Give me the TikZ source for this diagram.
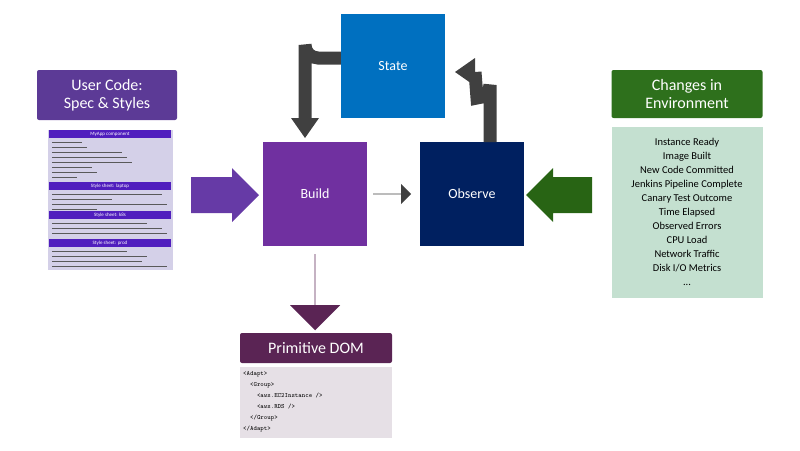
\documentclass[tikz,border=0pt]{standalone}
\usepackage{fontspec}
\setmainfont{Carlito}
\usetikzlibrary{shapes.arrows}
\definecolor{stateblue}{RGB}{0,112,192}
\definecolor{buildpur}{RGB}{112,48,160}
\definecolor{navy}{RGB}{0,32,96}
\definecolor{agray}{RGB}{64,64,64}
\definecolor{lpur}{RGB}{102,58,166}
\definecolor{titlepur}{RGB}{92,58,150}
\definecolor{dgreen}{RGB}{40,100,20}
\definecolor{tgreen}{RGB}{46,112,28}
\definecolor{lgreen}{RGB}{196,224,208}
\definecolor{maroon}{RGB}{90,36,84}
\definecolor{lgray}{RGB}{230,224,230}
\definecolor{lav}{RGB}{212,208,232}
\definecolor{hdr}{RGB}{80,30,190}
\begin{document}
\begin{tikzpicture}[x=1pt,y=-1pt,
  box/.style={minimum width=104,minimum height=104,inner sep=0,text=white,font=\fontsize{14}{16}\selectfont},
  title/.style={rounded corners=2,inner sep=0,text=white,font=\fontsize{16}{18}\selectfont,align=center,drop shadow/.try},
  big/.style={single arrow,draw=none,inner sep=0,single arrow head extend=0},
  hdr/.style={fill=hdr,minimum width=122,minimum height=8,inner sep=0,text=white,font=\fontsize{5}{5}\selectfont}]
\useasboundingbox (0,0) rectangle (800,450);
\node[box,fill=stateblue] (state) at (393,66) {State};
\node[box,fill=buildpur] (build) at (315,194) {Build};
\node[box,fill=navy] (obs) at (472,194) {Observe};
% curved arrows
\draw[agray,line width=13] (state.west|-0,58) -- (318,58) arc[start angle=90,end angle=180,radius=13] -- (305,118);
\fill[agray] (291,118) -- (319,118) -- (305,138) -- cycle;
\draw[agray,line width=13] (490,142) -- (490,85) arc[start angle=0,end angle=90,radius=13] -- (475,72);
\fill[agray] (475,58) -- (475,86) -- (455,72) -- cycle;
\node[big,fill=agray,minimum width=20,minimum height=38,single arrow head extend=5,single arrow tip angle=90] (a1) at (392,194) {};
\draw[draw=none] (build) -- (obs);
\node[big,fill=lpur,minimum width=54,minimum height=68,single arrow head extend=0.1,single arrow tip angle=90] (a2) at (216,195) {};
\node[big,fill=dgreen,minimum width=54,minimum height=66,single arrow head extend=0.1,single arrow tip angle=90,shape border rotate=180] (a3) at (568,195) {};
\node[big,fill=maroon,minimum width=50,minimum height=76,single arrow head extend=10,single arrow tip angle=90,shape border rotate=270] (a4) at (315,292) {};
% titles
\node[title,fill=titlepur,minimum width=140,minimum height=50] (uc) at (107,95) {User Code:\\Spec \& Styles};
\node[title,fill=tgreen,minimum width=151,minimum height=48] (ch) at (687,94) {Changes in\\Environment};
\node[title,fill=maroon,minimum width=152,minimum height=30] (pd) at (316,348) {Primitive DOM};
% left panel
\node[fill=lav,minimum width=125,minimum height=140,inner sep=0] (lp) at (110,200) {};
\node[hdr] (h1) at (110,134) {MyApp component};
\node[hdr] (h2) at (110,186) {Style sheet: laptop};
\node[hdr] (h3) at (110,215) {Style sheet: k8s};
\node[hdr] (h4) at (110,243) {Style sheet: prod};
\begin{scope}[gray!70!black,line width=0.6]
\foreach \y/\l in {142/30,147/35,152/70,157/75,162/80,167/40,172/45,177/25}{\draw (52,\y) -- ++(\l,0);}
\foreach \y/\l in {194/110,199/60,204/115,209/45}{\draw (52,\y) -- ++(\l,0);}
\foreach \y/\l in {223/95,228/110,233/115}{\draw (52,\y) -- ++(\l,0);}
\foreach \y/\l in {251/75,256/95,261/90,266/115}{\draw (52,\y) -- ++(\l,0);}
\end{scope}
% right panel
\node[fill=lgreen,minimum width=151,minimum height=171,inner sep=0,align=center,font=\fontsize{10.5}{14}\selectfont] (rp) at (687,212) {Instance Ready\\Image Built\\New Code Committed\\Jenkins Pipeline Complete\\Canary Test Outcome\\Time Elapsed\\Observed Errors\\CPU Load\\Network Traffic\\Disk I/O Metrics\\...};
% DOM panel
\node[fill=lgray,minimum width=152,minimum height=71,inner sep=0] (dp) at (316,402) {};
\node[anchor=north west,align=left,inner sep=0,font=\ttfamily\fontsize{6.5}{11}\selectfont] (code) at (243,371) {<Adapt>\\\ \ <Group>\\\ \ \ \ <aws.EC2Instance />\\\ \ \ \ <aws.RDS />\\\ \ </Group>\\</Adapt>};
\end{tikzpicture}
\end{document}
